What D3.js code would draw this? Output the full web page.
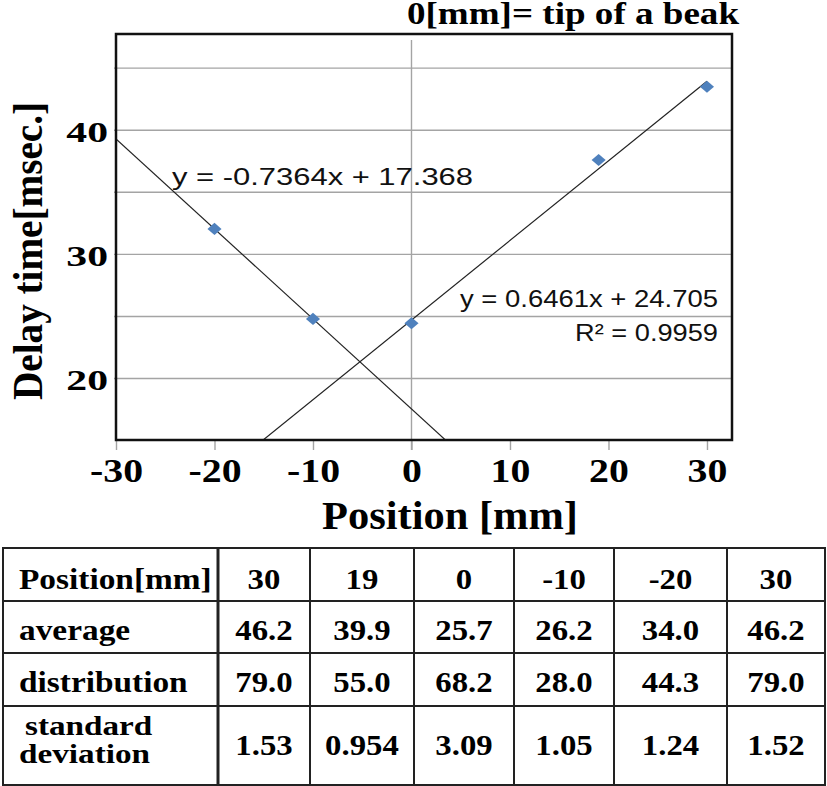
<!DOCTYPE html>
<html>
<head>
<meta charset="utf-8">
<script src="https://cdn.jsdelivr.net/npm/d3@7"></script>
<style>
  body { margin: 0; background: #fff; }
  svg { display: block; }
</style>
</head>
<body>
<svg id="vis" width="827" height="786"></svg>
<script>
// delay time at each position along the beak
const positions = [-20, -10, 0, 19, 30]
const delays = [32.05, 24.8, 24.45, 37.6, 43.5]

const xTicks = [-30, -20, -10, 0, 10, 20, 30]
const yGrid = [20, 25, 30, 35, 40, 45]
const yLabels = [20, 30, 40]

const fitLabels = ["y = -0.7364x + 17.368", "y = 0.6461x + 24.705", "R² = 0.9959"]

// table under the chart
const rowNames = ["Position[mm]", "average", "distribution", "standard deviation"]
const tablePositions = ["30", "19", "0", "-10", "-20", "30"]
const averages = ["46.2", "39.9", "25.7", "26.2", "34.0", "46.2"]
const distributions = ["79.0", "55.0", "68.2", "28.0", "44.3", "79.0"]
const stdDevs = ["1.53", "0.954", "3.09", "1.05", "1.24", "1.52"]

const SERIF = '"Liberation Serif", "Times New Roman", serif'
const SANS = '"Liberation Sans", Arial, sans-serif'

// Times bold advance widths (1/1000 em), to size the stretched text
const adv = {
    "0": 500, "1": 500, "2": 500, "3": 500, "4": 500, "5": 500, "6": 500, "7": 500, "8": 500, "9": 500,
    ".": 250, "-": 333, " ": 250, "[": 333, "]": 333, "=": 570,
    P: 611, D: 722, a: 500, b: 556, c: 444, d: 556, e: 444, f: 333, g: 500, i: 278, k: 556,
    l: 278, m: 833, n: 556, o: 500, p: 556, r: 444, s: 389, t: 333, u: 556, v: 500, y: 500
}
function timesWidth(str, size) {
    return d3.sum(str, c => adv[c] || 500) * size / 1000
}
function serif(sel) {
    sel.style("font-family", SERIF).style("font-weight", "bold").attr("fill", "#000")
}
// the original picture is wider than normal type, so stretch text sideways
function stretch(sel, size, k) {
    sel.call(serif)
        .attr("font-size", size)
        .each(function () {
            d3.select(this)
                .attr("textLength", timesWidth(this.textContent, size) * k)
                .attr("lengthAdjust", "spacingAndGlyphs")
        })
}

// least squares line through some points -> [slope, intercept]
function fit(xs, ys) {
    let mx = d3.mean(xs), my = d3.mean(ys)
    let b = d3.sum(xs, (v, i) => (v - mx) * (ys[i] - my)) / d3.sum(xs, v => (v - mx) ** 2)
    return [b, my - b * mx]
}

const svg = d3.select("#vis")
svg.append("rect").attr("width", 827).attr("height", 786).attr("fill", "#fff")

const pLeft = 116, pRight = 732, pTop = 34, pBottom = 440
const x = d3.scaleLinear().domain([-30, 32.54]).range([pLeft, pRight])
const y = d3.scaleLinear().domain([15.05, 47.75]).range([pBottom, pTop])

svg.append("clipPath").attr("id", "plot")
    .append("rect")
    .attr("x", pLeft).attr("y", pTop)
    .attr("width", pRight - pLeft).attr("height", pBottom - pTop)

// gridlines
svg.append("g")
    .selectAll("line")
    .data(yGrid)
    .join("line")
    .attr("x1", pLeft - 2).attr("x2", pRight)
    .attr("y1", d => y(d)).attr("y2", d => y(d))
    .attr("stroke", "#a4a4a4")
    .attr("stroke-width", 1.4)

svg.append("line")
    .attr("x1", x(0)).attr("x2", x(0))
    .attr("y1", pTop + 6).attr("y2", pBottom + 10)
    .attr("stroke", "#a4a4a4")
    .attr("stroke-width", 1.4)

// x axis
let gx = svg.append("g")
    .attr("transform", `translate(0,${pBottom})`)
    .call(d3.axisBottom(x).tickValues(xTicks).tickSize(10).tickPadding(8).tickFormat(d3.format("d")))
gx.select(".domain").remove()
gx.selectAll(".tick line").attr("stroke", "#a4a4a4").attr("stroke-width", 1.4)
gx.selectAll(".tick text")
    .text(d => d < 0 ? "-" + Math.abs(d) : d)
    .call(stretch, 34, 1.17)

// y axis (labels every 10 only)
let gy = svg.append("g")
    .attr("transform", `translate(${pLeft},0)`)
    .call(d3.axisLeft(y).tickValues(yLabels).tickSize(0).tickPadding(8))
gy.select(".domain").remove()
gy.selectAll(".tick text")
    .attr("dy", "0.38em")
    .call(stretch, 30, 1.39)

// trendlines for the two sides of the beak
const leftIdx = d3.range(positions.length).filter(i => positions[i] < 0)
const rightIdx = d3.range(positions.length).filter(i => positions[i] >= 0)
const fits = [
    fit(leftIdx.map(i => positions[i]), leftIdx.map(i => delays[i])),
    fit(rightIdx.map(i => positions[i]), rightIdx.map(i => delays[i]))
]

const line = d3.line().x(d => x(d[0])).y(d => y(d[1]))
svg.append("g")
    .attr("clip-path", "url(#plot)")
    .selectAll("path")
    .data(fits)
    .join("path")
    .attr("d", f => line([-30, 30].map(v => [v, f[0] * v + f[1]])))
    .attr("fill", "none")
    .attr("stroke", "#222")
    .attr("stroke-width", 1.2)

// points
svg.append("g")
    .selectAll("path")
    .data(positions)
    .join("path")
    .attr("d", d3.symbol(d3.symbolSquare, 82))
    .attr("transform", (d, i) => `translate(${x(d)},${y(delays[i])}) scale(1.1,0.95) rotate(45)`)
    .attr("fill", "#4f81bd")

// frame
svg.append("rect")
    .attr("x", pLeft).attr("y", pTop)
    .attr("width", pRight - pLeft).attr("height", pBottom - pTop)
    .attr("fill", "none")
    .attr("stroke", "#111")
    .attr("stroke-width", 2.5)

// trendline equations
function sansLabel(txt, xPos, yPos, anchor, size, len) {
    svg.append("text")
        .style("font-family", SANS)
        .attr("fill", "#111")
        .attr("x", xPos).attr("y", yPos)
        .attr("text-anchor", anchor)
        .attr("font-size", size)
        .attr("textLength", len).attr("lengthAdjust", "spacingAndGlyphs")
        .text(txt)
}
sansLabel(fitLabels[0], 172, 185, "start", 23, 301)
sansLabel(fitLabels[1], 718, 307, "end", 24, 258)
sansLabel(fitLabels[2], 718, 341, "end", 24, 143)

// titles
svg.append("text")
    .call(serif)
    .attr("x", 407).attr("y", 24)
    .attr("font-size", 31)
    .attr("textLength", 332).attr("lengthAdjust", "spacingAndGlyphs")
    .text("0[mm]= tip of a beak")

svg.append("text")
    .call(serif)
    .attr("transform", "translate(42,251) rotate(-90)")
    .attr("text-anchor", "middle")
    .attr("font-size", 42)
    .attr("textLength", 298).attr("lengthAdjust", "spacingAndGlyphs")
    .text("Delay time[msec.]")

svg.append("text")
    .call(serif)
    .attr("x", 450).attr("y", 529)
    .attr("text-anchor", "middle")
    .attr("font-size", 40)
    .attr("textLength", 256).attr("lengthAdjust", "spacingAndGlyphs")
    .text("Position [mm]")

// ---- table ----
const colEdges = [3, 218, 310, 414, 514, 614, 727, 825]
const rowEdges = [548, 601, 653, 706, 785]
const rowBase = [589, 640, 692, 755]
const tableRows = [tablePositions, averages, distributions, stdDevs]

let tb = svg.append("g")
tb.selectAll(".hl")
    .data(rowEdges)
    .join("line")
    .attr("class", "hl")
    .attr("x1", colEdges[0] - 1).attr("x2", colEdges[colEdges.length - 1] + 1)
    .attr("y1", d => d).attr("y2", d => d)
    .attr("stroke", "#222").attr("stroke-width", 2)
tb.selectAll(".vl")
    .data(colEdges)
    .join("line")
    .attr("class", "vl")
    .attr("x1", d => d).attr("x2", d => d)
    .attr("y1", rowEdges[0]).attr("y2", rowEdges[rowEdges.length - 1])
    .attr("stroke", "#222")
    .attr("stroke-width", (d, i) => i == 1 ? 3 : 2)

// row names, split onto lines at spaces
rowNames.forEach((name, r) => {
    let words = name.split(" ")
    let two = words.length > 1
    tb.selectAll(null)
        .data(words)
        .join("text")
        .attr("x", (d, i) => two && i == 0 ? 25 : 19)
        .attr("y", (d, i) => two ? rowBase[r] - 20 + i * 28 : rowBase[r])
        .text(d => d)
        .call(stretch, two ? 27 : 29, two ? 1.23 : 1.15)
})

tableRows.forEach((row, r) => {
    tb.selectAll(null)
        .data(row)
        .join("text")
        .attr("text-anchor", "middle")
        .attr("x", (d, i) => (colEdges[i + 1] + colEdges[i + 2]) / 2)
        .attr("y", rowBase[r])
        .text(d => d)
        .call(stretch, 29, 1.13)
})
</script>
</body>
</html>
